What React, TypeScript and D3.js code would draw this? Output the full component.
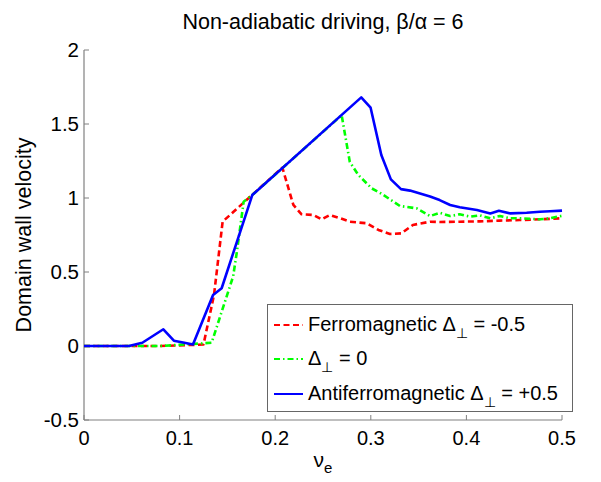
import React from "react";
import * as d3 from "d3";

const W = 601;
const H = 482;

const xTicks = [0, 0.1, 0.2, 0.3, 0.4, 0.5];
const yTicks = [-0.5, 0, 0.5, 1, 1.5, 2];

// Ferromagnetic Δ⊥ = -0.5 (red dashed)
const ferroX = [0, 0.04, 0.08, 0.125, 0.136, 0.145, 0.174, 0.2075, 0.219, 0.2276, 0.24, 0.2486, 0.257, 0.268, 0.278, 0.296, 0.308, 0.32, 0.332, 0.344, 0.362, 0.372, 0.393, 0.414, 0.435, 0.456, 0.477, 0.5];
const ferroY = [0, 0, 0, 0.01, 0.345, 0.84, 1.01, 1.205, 0.953, 0.89, 0.885, 0.856, 0.885, 0.863, 0.84, 0.829, 0.784, 0.757, 0.761, 0.818, 0.84, 0.838, 0.84, 0.842, 0.847, 0.851, 0.856, 0.863];

// Δ⊥ = 0 (green dash-dot)
const zeroX = [0, 0.04, 0.08, 0.1335, 0.156, 0.16, 0.167, 0.176, 0.2695, 0.278, 0.287, 0.301, 0.311, 0.3305, 0.348, 0.362, 0.372, 0.383, 0.393, 0.404, 0.414, 0.425, 0.435, 0.446, 0.456, 0.477, 0.4875, 0.5];
const zeroY = [0, 0, 0, 0.022, 0.47, 0.64, 0.975, 1.02, 1.56, 1.245, 1.155, 1.065, 1.03, 0.946, 0.93, 0.878, 0.9, 0.878, 0.89, 0.874, 0.883, 0.863, 0.878, 0.863, 0.863, 0.856, 0.863, 0.88];

// Antiferromagnetic Δ⊥ = +0.5 (blue solid)
const antiX = [0, 0.047, 0.061, 0.083, 0.094, 0.105, 0.114, 0.135, 0.144, 0.176, 0.29, 0.2998, 0.311, 0.321, 0.3316, 0.341, 0.362, 0.372, 0.383, 0.393, 0.411, 0.425, 0.434, 0.446, 0.463, 0.477, 0.4875, 0.5];
const antiY = [0, 0, 0.022, 0.113, 0.036, 0.022, 0.01, 0.345, 0.39, 1.02, 1.68, 1.61, 1.29, 1.126, 1.06, 1.05, 1.01, 0.986, 0.953, 0.937, 0.919, 0.896, 0.914, 0.896, 0.9, 0.907, 0.91, 0.915];

const FONT = "'Liberation Sans', Arial, Helvetica, sans-serif";

export default function App() {
  const x = d3.scaleLinear().domain([0, 0.5]).range([84, 562]);
  const y = d3.scaleLinear().domain([-0.5, 2]).range([420, 50]);

  const line = d3
    .line<[number, number]>()
    .x((d) => x(d[0]))
    .y((d) => y(d[1]));

  const pts = (xs: number[], ys: number[]) => xs.map((v, i) => [v, ys[i]] as [number, number]);

  const series = [
    { xs: ferroX, ys: ferroY, color: "#ff0000", dash: "6,3.5" },
    { xs: zeroX, ys: zeroY, color: "#00ff00", dash: "6,3,1.5,3" },
    { xs: antiX, ys: antiY, color: "#0000ff", dash: undefined as string | undefined },
  ];

  const axisColor = "#808080";

  return (
    <svg
      width={W}
      height={H}
      style={{ position: "absolute", left: 0, top: 0, background: "#fff" }}
      fontFamily={FONT}
    >
      <rect x={0} y={0} width={W} height={H} fill="#fff" />
      {/* title */}
      <text x={323} y={29} textAnchor="middle" fontSize={21.5} fill="#000">
        Non-adiabatic driving, β/α = 6
      </text>

      {/* axes */}
      <line x1={x(0)} x2={x(0)} y1={y(2)} y2={y(-0.5)} stroke={axisColor} strokeWidth={1.2} />
      <line x1={x(0)} x2={x(0.5)} y1={y(-0.5)} y2={y(-0.5)} stroke={axisColor} strokeWidth={1.2} />
      {xTicks.map((t) => (
        <g key={"xt" + t}>
          <line x1={x(t)} x2={x(t)} y1={y(-0.5)} y2={y(-0.5) - 5} stroke={axisColor} strokeWidth={1} />
          <text x={x(t)} y={445} textAnchor="middle" fontSize={20} fill="#000">
            {t === 0 ? "0" : String(t)}
          </text>
        </g>
      ))}
      {yTicks.map((t) => (
        <g key={"yt" + t}>
          <line x1={x(0)} x2={x(0) + 5} y1={y(t)} y2={y(t)} stroke={axisColor} strokeWidth={1} />
          <text x={79} y={y(t) + 7} textAnchor="end" fontSize={20.5} fill="#000">
            {String(t)}
          </text>
        </g>
      ))}

      {/* axis labels */}
      <text x={323} y={467} textAnchor="middle" fontSize={21} fill="#000">
        ν<tspan dy={6} fontSize={15}>e</tspan>
      </text>
      <text
        transform="translate(31,235) rotate(-90)"
        textAnchor="middle"
        fontSize={21.5}
        fill="#000"
      >
        Domain wall velocity
      </text>

      {/* series */}
      {series.map((s, i) => (
        <path
          key={"s" + i}
          d={line(pts(s.xs, s.ys)) || ""}
          fill="none"
          stroke={s.color}
          strokeWidth={2.6}
          strokeDasharray={s.dash}
          strokeLinejoin="round"
        />
      ))}

      {/* legend */}
      <rect x={267.5} y={304.5} width={305} height={107} fill="#fff" stroke="#666" strokeWidth={1} />
      {[
        { color: "#ff0000", dash: "6,3.5", pre: "Ferromagnetic Δ", post: " = -0.5", ly: 325 },
        { color: "#00ff00", dash: "6,3,1.5,3", pre: "Δ", post: " = 0", ly: 359 },
        { color: "#0000ff", dash: undefined as string | undefined, pre: "Antiferromagnetic Δ", post: " = +0.5", ly: 394 },
      ].map((e, i) => (
        <g key={"lg" + i}>
          <line x1={274} x2={303} y1={e.ly} y2={e.ly} stroke={e.color} strokeWidth={2} strokeDasharray={e.dash} />
          <text x={308} y={e.ly + 6} fontSize={20} fill="#000">
            {e.pre}
            <tspan dy={7} fontSize={14}>⊥</tspan>
            <tspan dy={-7}>{e.post}</tspan>
          </text>
        </g>
      ))}
    </svg>
  );
}
